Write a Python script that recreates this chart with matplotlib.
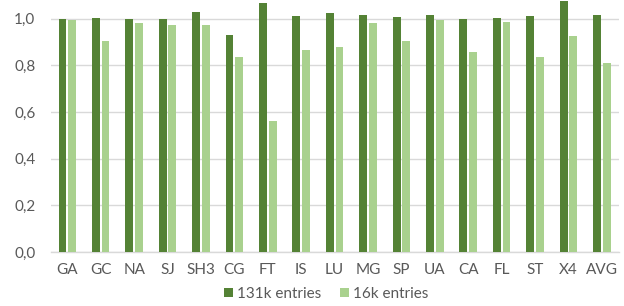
import matplotlib
matplotlib.use("Agg")
import matplotlib.pyplot as plt
import numpy as np

categories = ["GA", "GC", "NA", "SJ", "SH3", "CG", "FT", "IS", "LU", "MG", "SP", "UA", "CA", "FL", "ST", "X4", "AVG"]
entries_131k = [1.000, 1.004, 1.000, 1.000, 1.029, 0.929, 1.069, 1.012, 1.024, 1.017, 1.006, 1.014, 1.000, 1.001, 1.013, 1.074, 1.016]
entries_16k = [0.996, 0.903, 0.981, 0.971, 0.971, 0.834, 0.563, 0.866, 0.879, 0.983, 0.904, 0.994, 0.856, 0.986, 0.834, 0.926, 0.810]
yticks = [0.0, 0.2, 0.4, 0.6, 0.8, 1.0]
ytick_labels = ["0,0", "0,2", "0,4", "0,6", "0,8", "1,0"]

plt.rcParams['font.family'] = ['Lato', 'DejaVu Sans']
fig = plt.figure(figsize=(6.24, 3.06), dpi=100)
ax = fig.add_axes([50.6/624, 1 - 252/306, 568/624, 252/306])

x = np.arange(len(categories))
w = 0.235
ax.bar(x - 0.145, entries_131k, w, color="#548235", label="131k entries", zorder=3)
ax.bar(x + 0.145, entries_16k, w, color="#A9D18E", label="16k entries", zorder=3)

ax.set_xlim(-0.5, len(categories) - 0.5)
ax.set_ylim(0, 1.08)
ax.set_yticks(yticks)
ax.set_yticklabels(ytick_labels)
ax.set_xticks(x)
ax.set_xticklabels(categories)
ax.tick_params(axis='both', length=0, labelsize=11, colors="#595959")
ax.tick_params(axis='x', pad=8)
ax.tick_params(axis='y', pad=11)
ax.yaxis.grid(True, color="#D9D9D9", linewidth=1.0, zorder=0)
for s in ["top", "right", "left"]:
    ax.spines[s].set_visible(False)
ax.spines["bottom"].set_color("#D9D9D9")
ax.spines["bottom"].set_linewidth(1.0)

leg = fig.legend(loc="center", bbox_to_anchor=(326/624, 1 - 294/306), ncol=2, frameon=False,
                 fontsize=11, handlelength=0.6, handleheight=0.6, handletextpad=0.25,
                 columnspacing=1.2, borderpad=0, borderaxespad=0)
for t in leg.get_texts():
    t.set_color("#595959")

fig.savefig("out.png", dpi=100)
